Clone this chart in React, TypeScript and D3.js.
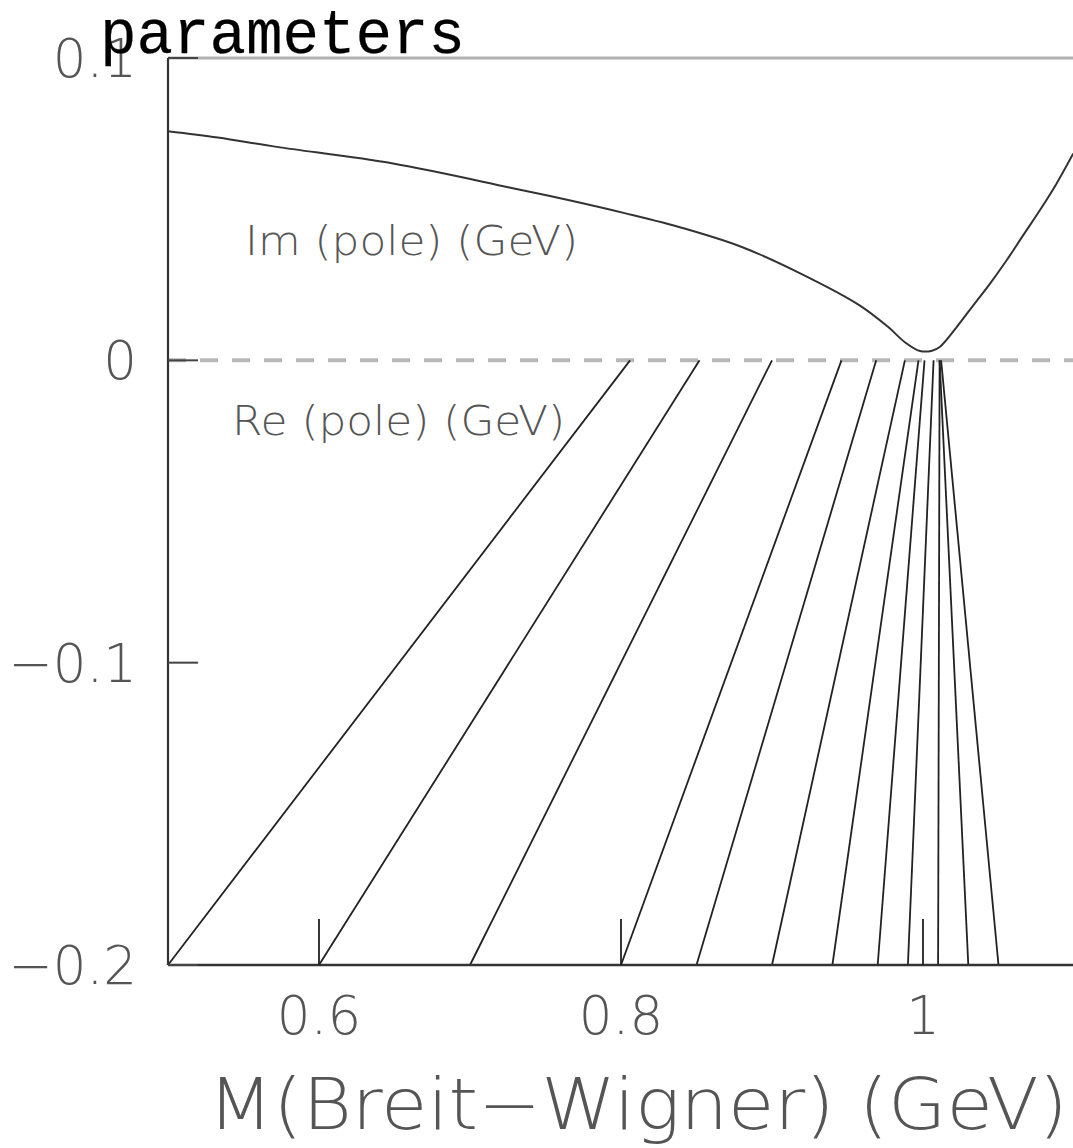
import React from "react";
import * as d3 from "d3";

// Breit–Wigner mass (GeV) at which each pole trajectory starts (bottom edge)
const bwMass = [0.5, 0.6, 0.7, 0.8, 0.85, 0.9, 0.94, 0.97, 0.99, 1.01, 1.03, 1.05];
// Real part of the pole (GeV) reached at the zero line
const rePole = [0.806, 0.852, 0.9, 0.946, 0.969, 0.988, 0.997, 1.001, 1.007, 1.011, 1.011, 1.012];

// Imaginary part of the pole (GeV) versus Breit–Wigner mass
const imMass = [0.5, 0.533, 0.572, 0.649, 0.726, 0.765, 0.803, 0.842, 0.88, 0.919, 0.958, 0.977, 0.988, 0.998, 1.006, 1.0113, 1.0223, 1.0333, 1.0444, 1.0554, 1.0664, 1.0775, 1.0885, 1.0995];
const imPole = [0.0758, 0.0737, 0.0706, 0.0651, 0.0572, 0.053, 0.0486, 0.0436, 0.0375, 0.0287, 0.0182, 0.011, 0.006, 0.0031, 0.0032, 0.0045, 0.011, 0.0182, 0.0254, 0.0331, 0.0414, 0.0497, 0.0585, 0.0684];

const xTicks = [0.6, 0.8, 1];
const xTickLabels = ["0.6", "0.8", "1"];
const yTicks = [0.1, 0, -0.1, -0.2];
const yTickLabels = ["0.1", "0", "\u22120.1", "\u22120.2"];

const W = 1073;
const H = 1148;

export default function App() {
  const x = d3.scaleLinear().domain([0.5, 1.1]).range([168, 1074]);
  const y = d3.scaleLinear().domain([-0.2, 0.1]).range([965, 58]);

  const imLine = d3
    .line<number>()
    .x((_, i) => x(imMass[i]))
    .y((d) => y(d))
    .curve(d3.curveCatmullRom.alpha(0.5));

  const labelFont = "'DejaVu Sans', 'Liberation Sans', sans-serif";
  const labelWeight = 200;
  const labelColor = "#555";

  return (
    <svg
      width={W}
      height={H}
      viewBox={`0 0 ${W} ${H}`}
      style={{ position: "absolute", left: 0, top: 0, background: "#fff" }}
    >
      {/* top frame edge */}
      <line x1={x(0.5)} x2={x(1.1)} y1={y(0.1)} y2={y(0.1)} stroke="#b0b0b0" strokeWidth={3} />

      {/* zero reference line */}
      <line
        x1={x(0.5)}
        x2={x(1.1)}
        y1={y(0)}
        y2={y(0)}
        stroke="#b8b8b8"
        strokeWidth={4}
        strokeDasharray="18 14"
      />

      {/* pole trajectories: Re(pole) */}
      {bwMass.map((m, i) => (
        <line
          key={i}
          x1={x(m)}
          y1={y(-0.2)}
          x2={x(rePole[i])}
          y2={y(0)}
          stroke="#222"
          strokeWidth={1.8}
        />
      ))}

      {/* Im(pole) curve */}
      <path d={imLine(imPole) || ""} fill="none" stroke="#333" strokeWidth={2} />

      {/* axes */}
      <line x1={x(0.5)} x2={x(0.5)} y1={y(0.1)} y2={y(-0.2)} stroke="#333" strokeWidth={2.2} />
      <line x1={x(0.5)} x2={x(1.1)} y1={y(-0.2)} y2={y(-0.2)} stroke="#333" strokeWidth={2.6} />

      {yTicks.map((t) => (
        <line key={t} x1={x(0.5)} x2={x(0.5) + 30} y1={y(t)} y2={y(t)} stroke="#444" strokeWidth={2} />
      ))}
      {xTicks.map((t) => (
        <line key={t} x1={x(t)} x2={x(t)} y1={y(-0.2)} y2={y(-0.2) - 46} stroke="#222" strokeWidth={1.8} />
      ))}

      {/* tick labels */}
      {yTicks.map((t, i) => (
        <text
          key={t}
          x={137}
          y={y(t)}
          dy="0.36em"
          textAnchor="end"
          fontFamily={labelFont}
          fontWeight={labelWeight}
          fontSize={53}
          fill={labelColor}
        >
          {yTickLabels[i]}
        </text>
      ))}
      {xTicks.map((t, i) => (
        <text
          key={t}
          x={x(t)}
          y={1034}
          textAnchor="middle"
          fontFamily={labelFont}
          fontWeight={labelWeight}
          fontSize={53}
          fill={labelColor}
        >
          {xTickLabels[i]}
        </text>
      ))}

      {/* curve annotations */}
      <text x={245} y={255} fontFamily={labelFont} fontWeight={labelWeight} fontSize={41} fill={labelColor} textLength={333} lengthAdjust="spacingAndGlyphs">
        Im (pole) (GeV)
      </text>
      <text x={232} y={435} fontFamily={labelFont} fontWeight={labelWeight} fontSize={41} fill={labelColor} textLength={333} lengthAdjust="spacingAndGlyphs">
        Re (pole) (GeV)
      </text>

      {/* x-axis title */}
      <text x={208} y={1129} fontFamily={labelFont} fontWeight={labelWeight} fontSize={71} fill={labelColor} textLength={860} lengthAdjust="spacingAndGlyphs">
        M(Breit{"\u2212"}Wigner) (GeV)
      </text>

      {/* title */}
      <text
        x={100}
        y={53}
        fontFamily="'Liberation Mono', 'DejaVu Sans Mono', monospace"
        fontSize={63}
        fill="#000"
        stroke="#000"
        strokeWidth={0.25}
        textLength={365}
        lengthAdjust="spacingAndGlyphs"
      >
        parameters
      </text>
    </svg>
  );
}
